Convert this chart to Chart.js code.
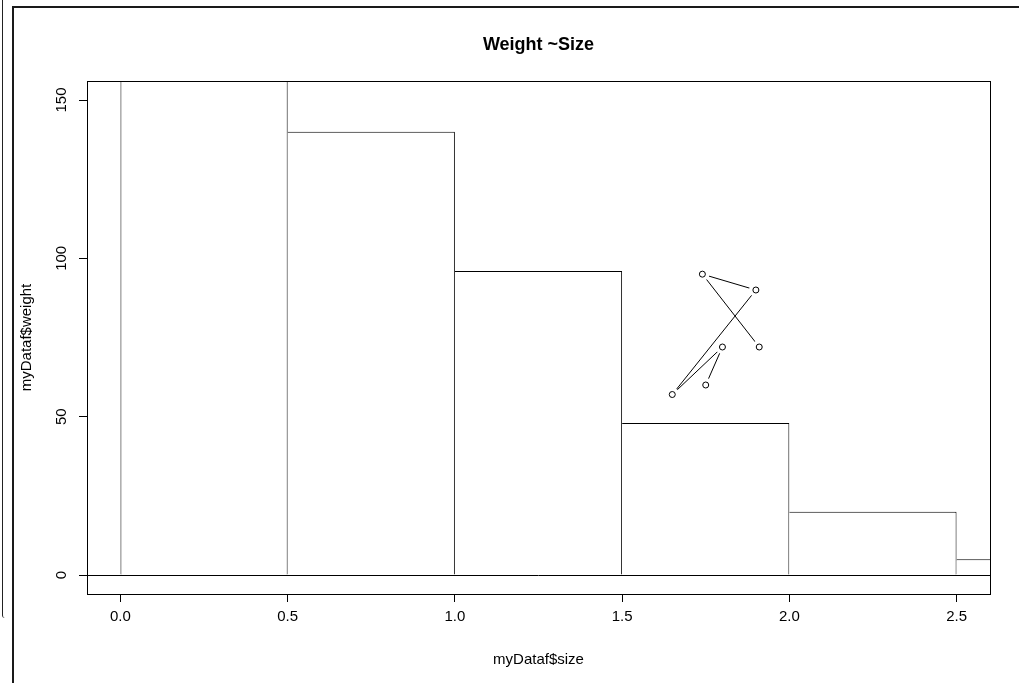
<!DOCTYPE html>
<html>
<head>
<meta charset="utf-8">
<title>Weight ~Size</title>
<script src="https://cdn.jsdelivr.net/npm/chart.js@4.4.1/dist/chart.umd.min.js"></script>
<style>
  html, body { margin: 0; padding: 0; background: #fff; }
  #wrap { position: relative; width: 1019px; height: 683px; overflow: hidden; }
  #outer { position: absolute; left: 2px; top: 0; width: 2px; height: 618px;
           border-left: 1px solid #222; border-bottom-left-radius: 6px; }
  #frame { position: absolute; left: 12px; top: 6px; width: 1100px; height: 800px;
           border-left: 2px solid #1a1a1a; border-top: 2px solid #1a1a1a; }
  canvas { position: absolute; left: 0; top: 0; }
</style>
</head>
<body>
<div id="wrap">
  <div id="outer"></div>
  <div id="frame"></div>
  <canvas id="chart" width="1019" height="683"></canvas>
</div>
<script>
// Histogram bins of size and their counts
const binEdges = [0, 0.5, 1.0, 1.5, 2.0, 2.5, 3.0];
const binCounts = [210, 140, 96, 48, 20, 5];

// Observations joined in recorded order
const sizeValues = [1.75, 1.80, 1.65, 1.90, 1.74, 1.91];
const weightValues = [60, 72, 57, 90, 95, 72];

// Axis ranges and tick marks
const xRange = [-0.1, 2.6];
const yRange = [-6, 156];
const xTicks = [0, 0.5, 1.0, 1.5, 2.0, 2.5];
const yTicks = [0, 50, 100, 150];
const baseline = 0;

const binData = binCounts.map((c, i) => ({ x: (binEdges[i] + binEdges[i + 1]) / 2, y: c }));
const obsData = sizeValues.map((s, i) => ({ x: s, y: weightValues[i] }));

const FONT = "'Liberation Sans', Arial, sans-serif";

// Plot box and the horizontal baseline, drawn over the bars
const boxPlugin = {
  id: 'box',
  afterDatasetsDraw(chart) {
    const { ctx, chartArea: a, scales } = chart;
    ctx.save();
    ctx.strokeStyle = '#000';
    ctx.lineWidth = 1;
    const y0 = Math.round(scales.y.getPixelForValue(baseline)) + 0.5;
    ctx.beginPath();
    ctx.moveTo(a.left, y0);
    ctx.lineTo(a.right, y0);
    ctx.stroke();
    ctx.strokeRect(Math.round(a.left) + 0.5, Math.round(a.top) + 0.5,
                   Math.round(a.right - a.left), Math.round(a.bottom - a.top));
    ctx.restore();
  }
};

new Chart(document.getElementById('chart'), {
  data: {
    datasets: [
      {
        type: 'scatter',
        data: obsData,
        order: 1,
        pointRadius: 3,
        pointHoverRadius: 3,
        pointBorderWidth: 1,
        pointBorderColor: '#000',
        pointBackgroundColor: '#fff',
        showLine: false
      },
      {
        // connecting segments; the white point discs leave a gap round each marker
        type: 'line',
        data: obsData,
        order: 2,
        borderColor: '#000',
        borderWidth: 1,
        tension: 0,
        fill: false,
        pointRadius: 7,
        pointHoverRadius: 7,
        pointBorderWidth: 0,
        pointBackgroundColor: '#fff'
      },
      {
        type: 'bar',
        data: binData,
        order: 3,
        backgroundColor: '#fff',
        borderColor: '#000',
        borderWidth: (c) => c.dataIndex === 0
          ? { left: 1, top: 1, right: 1, bottom: 0 }
          : { left: 0, top: 1, right: 1, bottom: 0 },
        borderSkipped: false,
        inflateAmount: 0,
        barPercentage: 1,
        categoryPercentage: 1
      }
    ]
  },
  options: {
    responsive: false,
    animation: false,
    devicePixelRatio: 1,
    layout: { padding: { left: 0, right: 29, top: 0, bottom: 0 } },
    plugins: {
      legend: { display: false },
      tooltip: { enabled: false },
      title: {
        display: true,
        text: 'Weight ~Size',
        fullSize: false,
        color: '#000',
        font: { family: FONT, size: 18, weight: 'bold' },
        padding: { top: 34, bottom: 25.4 }
      }
    },
    scales: {
      x: {
        type: 'linear',
        offset: false,
        min: xRange[0],
        max: xRange[1],
        afterBuildTicks: (s) => { s.ticks = xTicks.map(v => ({ value: v })); },
        afterFit: (s) => { s.height = 89; },
        border: { display: false },
        grid: { offset: false, drawOnChartArea: false, drawTicks: true, tickLength: 8, tickColor: '#000', tickWidth: 1 },
        ticks: {
          autoSkip: false,
          maxRotation: 0,
          padding: 6,
          color: '#000',
          font: { family: FONT, size: 15 },
          callback: (v) => Number(v).toFixed(1)
        },
        title: {
          display: true,
          text: 'myDataf$size',
          color: '#000',
          font: { family: FONT, size: 15 },
          padding: { top: 0, bottom: 14 }
        }
      },
      y: {
        type: 'linear',
        min: yRange[0],
        max: yRange[1],
        afterBuildTicks: (s) => { s.ticks = yTicks.map(v => ({ value: v })); },
        afterFit: (s) => { s.width = 87; },
        border: { display: false },
        grid: { drawOnChartArea: false, drawTicks: true, tickLength: 8, tickColor: '#000', tickWidth: 1 },
        ticks: {
          autoSkip: false,
          minRotation: 90,
          maxRotation: 90,
          crossAlign: 'center',
          padding: 4.5,
          color: '#000',
          font: { family: FONT, size: 15 },
          callback: (v) => String(v)
        },
        title: {
          display: true,
          text: 'myDataf$weight',
          color: '#000',
          font: { family: FONT, size: 15 },
          padding: { top: 18, bottom: 0 }
        }
      }
    }
  },
  plugins: [boxPlugin]
});
</script>
</body>
</html>
